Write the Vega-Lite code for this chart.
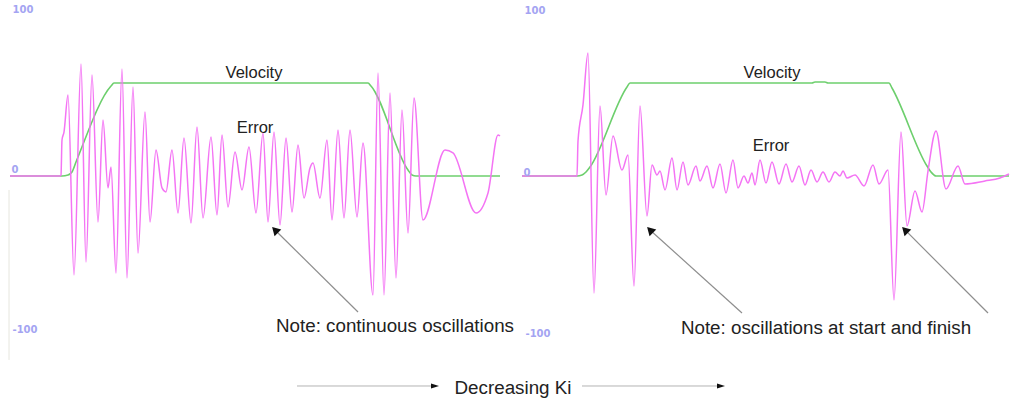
{
  "$schema": "https://vega.github.io/schema/vega-lite/v6.json",
  "width": 1010,
  "height": 405,
  "padding": 0,
  "autosize": {"type": "none"},
  "background": "white",
  "config": {"view": {"stroke": null}},
  "datasets": {
    "series": [
      {"panel": "L", "series": "Velocity", "t": 10, "v": 0},
      {"panel": "L", "series": "Velocity", "t": 62, "v": 0},
      {"panel": "L", "series": "Velocity", "t": 68, "v": 0.6},
      {"panel": "L", "series": "Velocity", "t": 72, "v": 2.4},
      {"panel": "L", "series": "Velocity", "t": 76, "v": 8.4},
      {"panel": "L", "series": "Velocity", "t": 111, "v": 54.2},
      {"panel": "L", "series": "Velocity", "t": 114, "v": 56.0},
      {"panel": "L", "series": "Velocity", "t": 368, "v": 56.0},
      {"panel": "L", "series": "Velocity", "t": 371, "v": 54.2},
      {"panel": "L", "series": "Velocity", "t": 408, "v": 3.6},
      {"panel": "L", "series": "Velocity", "t": 412, "v": 0.6},
      {"panel": "L", "series": "Velocity", "t": 416, "v": 0},
      {"panel": "L", "series": "Velocity", "t": 500, "v": 0},
      {"panel": "R", "series": "Velocity", "t": 522, "v": 0},
      {"panel": "R", "series": "Velocity", "t": 577, "v": 0},
      {"panel": "R", "series": "Velocity", "t": 582, "v": 0.6},
      {"panel": "R", "series": "Velocity", "t": 586, "v": 2.4},
      {"panel": "R", "series": "Velocity", "t": 590, "v": 5.4},
      {"panel": "R", "series": "Velocity", "t": 627, "v": 53.6},
      {"panel": "R", "series": "Velocity", "t": 630, "v": 56.0},
      {"panel": "R", "series": "Velocity", "t": 812, "v": 56.0},
      {"panel": "R", "series": "Velocity", "t": 815, "v": 56.6},
      {"panel": "R", "series": "Velocity", "t": 825, "v": 56.6},
      {"panel": "R", "series": "Velocity", "t": 828, "v": 56.0},
      {"panel": "R", "series": "Velocity", "t": 889, "v": 56.0},
      {"panel": "R", "series": "Velocity", "t": 892, "v": 53.0},
      {"panel": "R", "series": "Velocity", "t": 927, "v": 6.0},
      {"panel": "R", "series": "Velocity", "t": 931, "v": 2.4},
      {"panel": "R", "series": "Velocity", "t": 936, "v": 0},
      {"panel": "R", "series": "Velocity", "t": 1009, "v": 0},

      {"panel": "L", "series": "Error", "t": 10, "v": 0},
      {"panel": "L", "series": "Error", "t": 60, "v": 0},
      {"panel": "L", "series": "Error", "t": 61, "v": 0.6},
      {"panel": "L", "series": "Error", "t": 62, "v": 21.7},
      {"panel": "L", "series": "Error", "t": 64, "v": 26.5},
      {"panel": "L", "series": "Error", "t": 68, "v": 48.8},
      {"panel": "L", "series": "Error", "t": 74, "v": -59.6},
      {"panel": "L", "series": "Error", "t": 81, "v": 67.5},
      {"panel": "L", "series": "Error", "t": 86, "v": -51.8},
      {"panel": "L", "series": "Error", "t": 92, "v": 60.8},
      {"panel": "L", "series": "Error", "t": 98, "v": -27.7},
      {"panel": "L", "series": "Error", "t": 103, "v": 33.7},
      {"panel": "L", "series": "Error", "t": 108, "v": -7.2},
      {"panel": "L", "series": "Error", "t": 111, "v": 5.4},
      {"panel": "L", "series": "Error", "t": 116, "v": -58.4},
      {"panel": "L", "series": "Error", "t": 122, "v": 64.5},
      {"panel": "L", "series": "Error", "t": 127, "v": -61.4},
      {"panel": "L", "series": "Error", "t": 133, "v": 53.6},
      {"panel": "L", "series": "Error", "t": 138, "v": -46.4},
      {"panel": "L", "series": "Error", "t": 145, "v": 38.6},
      {"panel": "L", "series": "Error", "t": 150, "v": -27.7},
      {"panel": "L", "series": "Error", "t": 156, "v": 15.7},
      {"panel": "L", "series": "Error", "t": 162, "v": -7.2},
      {"panel": "L", "series": "Error", "t": 166, "v": -9.6},
      {"panel": "L", "series": "Error", "t": 172, "v": 15.7},
      {"panel": "L", "series": "Error", "t": 178, "v": -22.3},
      {"panel": "L", "series": "Error", "t": 184, "v": 22.9},
      {"panel": "L", "series": "Error", "t": 191, "v": -28.3},
      {"panel": "L", "series": "Error", "t": 197, "v": 29.5},
      {"panel": "L", "series": "Error", "t": 203, "v": -25.3},
      {"panel": "L", "series": "Error", "t": 211, "v": 23.5},
      {"panel": "L", "series": "Error", "t": 217, "v": -23.5},
      {"panel": "L", "series": "Error", "t": 222, "v": 24.7},
      {"panel": "L", "series": "Error", "t": 228, "v": -18.7},
      {"panel": "L", "series": "Error", "t": 235, "v": 14.5},
      {"panel": "L", "series": "Error", "t": 242, "v": -8.4},
      {"panel": "L", "series": "Error", "t": 249, "v": 17.5},
      {"panel": "L", "series": "Error", "t": 256, "v": -22.3},
      {"panel": "L", "series": "Error", "t": 263, "v": 25.9},
      {"panel": "L", "series": "Error", "t": 268, "v": -27.7},
      {"panel": "L", "series": "Error", "t": 274, "v": 26.5},
      {"panel": "L", "series": "Error", "t": 280, "v": -29.5},
      {"panel": "L", "series": "Error", "t": 286, "v": 22.9},
      {"panel": "L", "series": "Error", "t": 292, "v": -21.7},
      {"panel": "L", "series": "Error", "t": 298, "v": 18.7},
      {"panel": "L", "series": "Error", "t": 304, "v": -13.3},
      {"panel": "L", "series": "Error", "t": 310, "v": 4.8},
      {"panel": "L", "series": "Error", "t": 313, "v": 7.8},
      {"panel": "L", "series": "Error", "t": 320, "v": -13.3},
      {"panel": "L", "series": "Error", "t": 327, "v": 21.7},
      {"panel": "L", "series": "Error", "t": 332, "v": -26.5},
      {"panel": "L", "series": "Error", "t": 338, "v": 27.7},
      {"panel": "L", "series": "Error", "t": 344, "v": -25.3},
      {"panel": "L", "series": "Error", "t": 350, "v": 27.7},
      {"panel": "L", "series": "Error", "t": 357, "v": -24.7},
      {"panel": "L", "series": "Error", "t": 363, "v": 19.9},
      {"panel": "L", "series": "Error", "t": 373, "v": -71.7},
      {"panel": "L", "series": "Error", "t": 378, "v": 62.0},
      {"panel": "L", "series": "Error", "t": 384, "v": -71.7},
      {"panel": "L", "series": "Error", "t": 390, "v": 50.0},
      {"panel": "L", "series": "Error", "t": 396, "v": -61.4},
      {"panel": "L", "series": "Error", "t": 402, "v": 39.8},
      {"panel": "L", "series": "Error", "t": 408, "v": -34.3},
      {"panel": "L", "series": "Error", "t": 414, "v": 47.0},
      {"panel": "L", "series": "Error", "t": 423, "v": -26.5},
      {"panel": "L", "series": "Error", "t": 445, "v": 15.7},
      {"panel": "L", "series": "Error", "t": 453, "v": 13.9},
      {"panel": "L", "series": "Error", "t": 476, "v": -22.3},
      {"panel": "L", "series": "Error", "t": 488, "v": -10.2},
      {"panel": "L", "series": "Error", "t": 498, "v": 24.7},
      {"panel": "L", "series": "Error", "t": 500, "v": 24.1},

      {"panel": "R", "series": "Error", "t": 522, "v": 0},
      {"panel": "R", "series": "Error", "t": 577, "v": 0},
      {"panel": "R", "series": "Error", "t": 578, "v": 21.1},
      {"panel": "R", "series": "Error", "t": 583, "v": 42.8},
      {"panel": "R", "series": "Error", "t": 588, "v": 74.1},
      {"panel": "R", "series": "Error", "t": 594, "v": -70.5},
      {"panel": "R", "series": "Error", "t": 600, "v": 42.2},
      {"panel": "R", "series": "Error", "t": 606, "v": -11.4},
      {"panel": "R", "series": "Error", "t": 613, "v": 24.1},
      {"panel": "R", "series": "Error", "t": 622, "v": 3.6},
      {"panel": "R", "series": "Error", "t": 628, "v": 12.7},
      {"panel": "R", "series": "Error", "t": 634, "v": -66.3},
      {"panel": "R", "series": "Error", "t": 640, "v": 42.2},
      {"panel": "R", "series": "Error", "t": 647, "v": -24.1},
      {"panel": "R", "series": "Error", "t": 652, "v": 6.6},
      {"panel": "R", "series": "Error", "t": 657, "v": 0.6},
      {"panel": "R", "series": "Error", "t": 660, "v": 3.0},
      {"panel": "R", "series": "Error", "t": 665, "v": -8.4},
      {"panel": "R", "series": "Error", "t": 672, "v": 10.8},
      {"panel": "R", "series": "Error", "t": 677, "v": -8.4},
      {"panel": "R", "series": "Error", "t": 683, "v": 8.4},
      {"panel": "R", "series": "Error", "t": 688, "v": -5.4},
      {"panel": "R", "series": "Error", "t": 696, "v": 6.0},
      {"panel": "R", "series": "Error", "t": 700, "v": -3.0},
      {"panel": "R", "series": "Error", "t": 707, "v": 6.0},
      {"panel": "R", "series": "Error", "t": 713, "v": -7.2},
      {"panel": "R", "series": "Error", "t": 720, "v": 7.2},
      {"panel": "R", "series": "Error", "t": 726, "v": -10.2},
      {"panel": "R", "series": "Error", "t": 733, "v": 9.6},
      {"panel": "R", "series": "Error", "t": 738, "v": -7.2},
      {"panel": "R", "series": "Error", "t": 744, "v": 0},
      {"panel": "R", "series": "Error", "t": 748, "v": -4.2},
      {"panel": "R", "series": "Error", "t": 752, "v": 1.8},
      {"panel": "R", "series": "Error", "t": 755, "v": -5.4},
      {"panel": "R", "series": "Error", "t": 760, "v": 9.6},
      {"panel": "R", "series": "Error", "t": 766, "v": -4.2},
      {"panel": "R", "series": "Error", "t": 772, "v": 8.4},
      {"panel": "R", "series": "Error", "t": 779, "v": -4.8},
      {"panel": "R", "series": "Error", "t": 786, "v": 7.2},
      {"panel": "R", "series": "Error", "t": 792, "v": -3.6},
      {"panel": "R", "series": "Error", "t": 799, "v": 6.0},
      {"panel": "R", "series": "Error", "t": 805, "v": -5.4},
      {"panel": "R", "series": "Error", "t": 811, "v": 3.6},
      {"panel": "R", "series": "Error", "t": 817, "v": -3.6},
      {"panel": "R", "series": "Error", "t": 823, "v": 2.4},
      {"panel": "R", "series": "Error", "t": 829, "v": -3.6},
      {"panel": "R", "series": "Error", "t": 835, "v": 2.4},
      {"panel": "R", "series": "Error", "t": 840, "v": 0},
      {"panel": "R", "series": "Error", "t": 843, "v": 3.0},
      {"panel": "R", "series": "Error", "t": 847, "v": -1.2},
      {"panel": "R", "series": "Error", "t": 855, "v": 0.6},
      {"panel": "R", "series": "Error", "t": 864, "v": -6.0},
      {"panel": "R", "series": "Error", "t": 873, "v": 6.6},
      {"panel": "R", "series": "Error", "t": 879, "v": -4.8},
      {"panel": "R", "series": "Error", "t": 888, "v": 3.6},
      {"panel": "R", "series": "Error", "t": 894, "v": -74.7},
      {"panel": "R", "series": "Error", "t": 901, "v": 26.5},
      {"panel": "R", "series": "Error", "t": 907, "v": -30.1},
      {"panel": "R", "series": "Error", "t": 915, "v": -9.0},
      {"panel": "R", "series": "Error", "t": 922, "v": -21.7},
      {"panel": "R", "series": "Error", "t": 928, "v": 3.0},
      {"panel": "R", "series": "Error", "t": 936, "v": 27.1},
      {"panel": "R", "series": "Error", "t": 946, "v": -7.8},
      {"panel": "R", "series": "Error", "t": 958, "v": 6.0},
      {"panel": "R", "series": "Error", "t": 965, "v": -4.8},
      {"panel": "R", "series": "Error", "t": 985, "v": -3.0},
      {"panel": "R", "series": "Error", "t": 1000, "v": -1.2},
      {"panel": "R", "series": "Error", "t": 1009, "v": 1.2}
    ],
    "labels": [
      {"kind": "axis", "t": 23, "v": 100, "text": "100"},
      {"kind": "axis", "t": 15, "v": 3.6, "text": "0"},
      {"kind": "axis", "t": 25, "v": -92.8, "text": "-100"},
      {"kind": "axis", "t": 535, "v": 99.4, "text": "100"},
      {"kind": "axis", "t": 527, "v": 1.8, "text": "0"},
      {"kind": "axis", "t": 538, "v": -95.2, "text": "-100"},
      {"kind": "series", "t": 254, "v": 62.0, "text": "Velocity"},
      {"kind": "series", "t": 772, "v": 62.0, "text": "Velocity"},
      {"kind": "series", "t": 255, "v": 28.9, "text": "Error"},
      {"kind": "series", "t": 771, "v": 18.1, "text": "Error"},
      {"kind": "note", "t": 395, "v": -90.4, "text": "Note: continuous oscillations"},
      {"kind": "note", "t": 826, "v": -91.6, "text": "Note: oscillations at start and finish"},
      {"kind": "note", "t": 513, "v": -127.7, "text": "Decreasing Ki"}
    ],
    "rules": [
      {"kind": "frame", "t": 9, "v": -8.4, "t2": 9, "v2": -110.8},
      {"kind": "diag", "t": 358, "v": -81.9, "t2": 275, "v2": -32.5},
      {"kind": "diag", "t": 742, "v": -82.5, "t2": 650, "v2": -32.5},
      {"kind": "diag", "t": 988, "v": -82.5, "t2": 905, "v2": -32.5},
      {"kind": "flat", "t": 297, "v": -126.5, "t2": 435, "v2": -126.5},
      {"kind": "flat", "t": 582, "v": -126.5, "t2": 721, "v2": -126.5}
    ],
    "heads": [
      {"kind": "diag", "t": 275, "v": -32.5},
      {"kind": "diag", "t": 650, "v": -32.5},
      {"kind": "diag", "t": 905, "v": -32.5},
      {"kind": "flat", "t": 435, "v": -126.5},
      {"kind": "flat", "t": 721, "v": -126.5}
    ]
  },
  "encoding": {
    "x": {"field": "t", "type": "quantitative", "scale": {"domain": [0, 1010], "nice": false, "zero": false}, "axis": null},
    "y": {"field": "v", "type": "quantitative", "scale": {"domain": [-137.95, 106.02], "nice": false, "zero": false}, "axis": null}
  },
  "layer": [
    {
      "data": {"name": "rules"},
      "transform": [{"filter": "datum.kind === 'frame'"}],
      "mark": {"type": "rule", "color": "#e6e6de", "strokeWidth": 1},
      "encoding": {"x2": {"field": "t2"}, "y2": {"field": "v2"}}
    },
    {
      "data": {"name": "series"},
      "transform": [{"filter": "datum.series === 'Velocity'"}],
      "mark": {"type": "line", "interpolate": "monotone", "color": "#6dcf6d", "strokeWidth": 1.6},
      "encoding": {"detail": {"field": "panel"}}
    },
    {
      "data": {"name": "series"},
      "transform": [{"filter": "datum.series === 'Error'"}],
      "mark": {"type": "line", "interpolate": "monotone", "color": "#f474f4", "strokeWidth": 1.5},
      "encoding": {"detail": {"field": "panel"}}
    },
    {
      "data": {"name": "rules"},
      "transform": [{"filter": "datum.kind === 'diag'"}],
      "mark": {"type": "rule", "color": "#8e8e8e", "strokeWidth": 1.2},
      "encoding": {"x2": {"field": "t2"}, "y2": {"field": "v2"}}
    },
    {
      "data": {"name": "rules"},
      "transform": [{"filter": "datum.kind === 'flat'"}],
      "mark": {"type": "rule", "color": "#b4b4b4", "strokeWidth": 1},
      "encoding": {"x2": {"field": "t2"}, "y2": {"field": "v2"}}
    },
    {
      "data": {"name": "heads"},
      "transform": [{"filter": "datum.kind === 'diag'"}],
      "mark": {"type": "point", "shape": "triangle-up", "angle": 315, "size": 90, "filled": true, "color": "#111111", "opacity": 1}
    },
    {
      "data": {"name": "heads"},
      "transform": [{"filter": "datum.kind === 'flat'"}],
      "mark": {"type": "point", "shape": "M1,0L-1,-0.65L-1,0.65Z", "size": 64, "filled": true, "color": "#111111", "opacity": 1}
    },
    {
      "data": {"name": "labels"},
      "transform": [{"filter": "datum.kind === 'axis'"}],
      "mark": {"type": "text", "font": "DejaVu Sans", "fontSize": 10, "fontWeight": "bold", "color": "#a4a4f2", "align": "center", "baseline": "middle"},
      "encoding": {"text": {"field": "text"}}
    },
    {
      "data": {"name": "labels"},
      "transform": [{"filter": "datum.kind === 'series'"}],
      "mark": {"type": "text", "font": "Liberation Sans", "fontSize": 16.5, "color": "#222222", "align": "center", "baseline": "middle"},
      "encoding": {"text": {"field": "text"}}
    },
    {
      "data": {"name": "labels"},
      "transform": [{"filter": "datum.kind === 'note'"}],
      "mark": {"type": "text", "font": "Liberation Sans", "fontSize": 18.8, "color": "#222222", "align": "center", "baseline": "middle"},
      "encoding": {"text": {"field": "text"}}
    }
  ]
}
